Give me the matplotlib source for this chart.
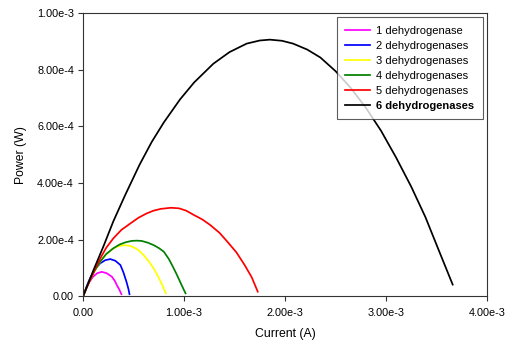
import matplotlib
matplotlib.use("Agg")
import matplotlib.pyplot as plt
import numpy as np

# Curvas potência x corrente (corrente em mA, potência em mW)
CURRENT_1 = [0, 0.03, 0.06, 0.10, 0.14, 0.185, 0.235, 0.285, 0.315, 0.335, 0.36, 0.38]
POWER_1   = [0, 0.028, 0.050, 0.070, 0.082, 0.087, 0.082, 0.070, 0.055, 0.040, 0.024, 0.008]

CURRENT_2 = [0, 0.035, 0.07, 0.12, 0.17, 0.22, 0.27, 0.32, 0.37, 0.40, 0.43, 0.45, 0.46]
POWER_2   = [0, 0.035, 0.064, 0.096, 0.117, 0.128, 0.132, 0.126, 0.111, 0.085, 0.052, 0.026, 0.008]

CURRENT_3 = [0, 0.04, 0.08, 0.12, 0.17, 0.22, 0.27, 0.32, 0.37, 0.42, 0.47, 0.52, 0.56,
             0.60, 0.65, 0.70, 0.74, 0.78, 0.82]
POWER_3   = [0, 0.035, 0.066, 0.093, 0.122, 0.145, 0.162, 0.173, 0.179, 0.181, 0.178, 0.170,
             0.160, 0.146, 0.124, 0.099, 0.073, 0.044, 0.011]

CURRENT_4 = [0, 0.04, 0.08, 0.12, 0.17, 0.23, 0.30, 0.36, 0.42, 0.48, 0.53, 0.58, 0.64,
             0.70, 0.75, 0.80, 0.85, 0.89, 0.93, 0.97, 1.015]
POWER_4   = [0, 0.035, 0.066, 0.094, 0.123, 0.150, 0.170, 0.183, 0.191, 0.196, 0.197, 0.196,
             0.190, 0.181, 0.171, 0.158, 0.132, 0.105, 0.076, 0.045, 0.011]

CURRENT_5 = [0, 0.035, 0.07, 0.12, 0.17, 0.23, 0.30, 0.38, 0.47, 0.55, 0.63, 0.70, 0.77,
             0.87, 0.95, 1.02, 1.10, 1.18, 1.26, 1.35, 1.43, 1.52, 1.60, 1.67, 1.73]
POWER_5   = [0, 0.030, 0.058, 0.098, 0.134, 0.172, 0.205, 0.235, 0.258, 0.278, 0.293, 0.303,
             0.309, 0.313, 0.311, 0.303, 0.287, 0.272, 0.252, 0.225, 0.193, 0.155, 0.111,
             0.068, 0.017]

CURRENT_6 = [0, 0.10, 0.20, 0.30, 0.415, 0.56, 0.68, 0.80, 0.96, 1.10, 1.29, 1.45, 1.62,
             1.75, 1.85, 1.97, 2.08, 2.22, 2.35, 2.50, 2.65, 2.80, 2.95, 3.10, 3.25, 3.39,
             3.52, 3.66]
POWER_6   = [0, 0.090, 0.175, 0.265, 0.356, 0.465, 0.545, 0.614, 0.695, 0.755, 0.821, 0.862,
             0.892, 0.903, 0.906, 0.902, 0.892, 0.871, 0.843, 0.795, 0.736, 0.666, 0.585,
             0.490, 0.387, 0.280, 0.165, 0.042]

SERIES = [
    (CURRENT_1, POWER_1, "1 dehydrogenase",   "#ff00ff"),
    (CURRENT_2, POWER_2, "2 dehydrogenases",  "#0000ff"),
    (CURRENT_3, POWER_3, "3 dehydrogenases",  "#ffff00"),
    (CURRENT_4, POWER_4, "4 dehydrogenases",  "#008000"),
    (CURRENT_5, POWER_5, "5 dehydrogenases",  "#ff0000"),
    (CURRENT_6, POWER_6, "6 dehydrogenases",  "#000000"),
]

X_TICKS = [0, 1e-3, 2e-3, 3e-3, 4e-3]
X_LABELS = ["0.00", "1.00e-3", "2.00e-3", "3.00e-3", "4.00e-3"]
Y_TICKS = [0, 2e-4, 4e-4, 6e-4, 8e-4, 1e-3]
Y_LABELS = ["0.00", "2.00e-4", "4.00e-4", "6.00e-4", "8.00e-4", "1.00e-3"]

plt.rcParams["font.family"] = ["Liberation Sans", "DejaVu Sans"]

fig = plt.figure(figsize=(5.05, 3.43), dpi=100)
ax = fig.add_axes([0.1644, 0.1356, 0.80, 0.8265])

for cur, pw, label, color in SERIES:
    ax.plot(np.array(cur) * 1e-3, np.array(pw) * 1e-3, color=color,
            linewidth=1.25, label=label)

ax.set_xlim(0, 4e-3)
ax.set_ylim(0, 1e-3)
ax.set_xticks(X_TICKS)
ax.set_xticklabels(X_LABELS)
ax.set_yticks(Y_TICKS)
ax.set_yticklabels(Y_LABELS)
ax.tick_params(direction="out", length=3.5, width=0.8, labelsize=7.8,
               top=False, right=False, color="#333333")
ax.tick_params(axis="x", pad=5)
ax.tick_params(axis="y", pad=3)
for sp in ax.spines.values():
    sp.set_linewidth(0.8)
    sp.set_color("#333333")

ax.set_xlabel("Current (A)", fontsize=8.8, labelpad=7)
ax.set_ylabel("Power (W)", fontsize=8.8, labelpad=7)

leg = ax.legend(loc="upper right", fontsize=8, frameon=True, fancybox=False,
                borderaxespad=0.4, handlelength=2.25, handletextpad=0.55,
                labelspacing=0.45, borderpad=0.75)
leg.get_frame().set_edgecolor("#333333")
leg.get_frame().set_linewidth(0.8)
leg.get_texts()[-1].set_fontweight("bold")

fig.savefig("out.png", dpi=100)
